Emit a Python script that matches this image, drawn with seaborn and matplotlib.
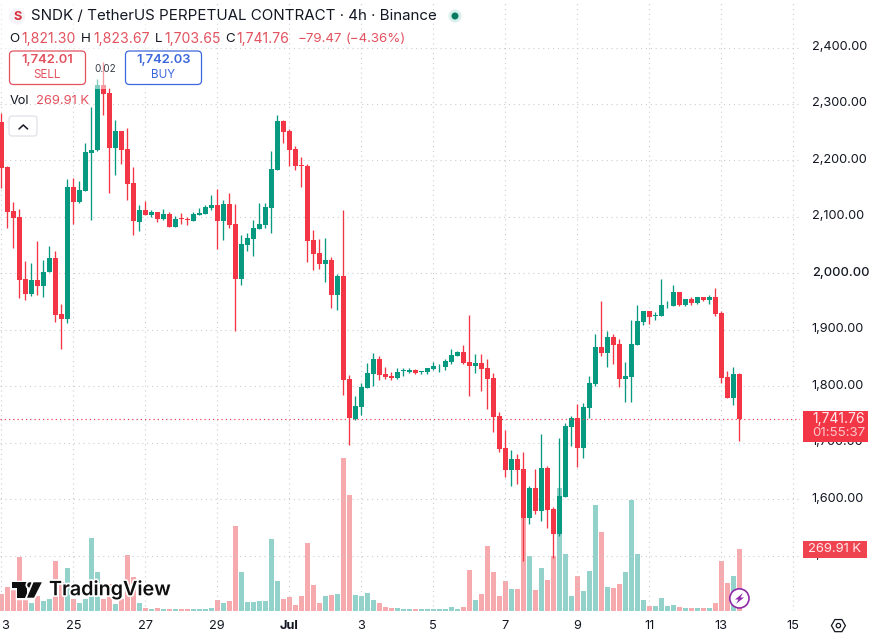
import numpy as np
import pandas as pd
import matplotlib
matplotlib.use("Agg")
import matplotlib.pyplot as plt
import matplotlib.patheffects as pe
from matplotlib.patches import FancyBboxPatch, Rectangle, Circle, Polygon
from matplotlib.transforms import ScaledTranslation
import seaborn as sns

# 4h candles for SNDK / TetherUS perpetual, starting 23 June 00:00
opens = [2268.6, 2188.9, 2110.3, 2099.7, 1989.3, 1963.3, 1987.5, 1977.5, 2002.3, 2027.1,
         1927.3, 1919.0, 2152.8, 2126.3, 2145.7, 2213.0, 2218.4, 2333.5, 2319.4, 2221.9,
         2252.0, 2220.2, 2159.9, 2090.8, 2112.1, 2102.6, 2108.5, 2096.1, 2105.0, 2082.0,
         2098.0, 2096.2, 2092.6, 2103.3, 2105.0, 2115.7, 2121.0, 2092.6, 2122.8, 2087.3,
         1989.9, 2050.1, 2060.8, 2078.5, 2085.6, 2115.7, 2183.0, 2269.8, 2252.1, 2220.2,
         2191.9, 2190.1, 2059.0, 2036.0, 2016.5, 2023.6, 1961.6, 1995.3, 1812.8, 1741.9,
         1763.2, 1796.9, 1821.7, 1848.2, 1821.7, 1818.1, 1814.6, 1827.0, 1825.2, 1828.7,
         1825.2, 1825.2, 1830.5, 1837.0, 1834.0, 1842.9, 1853.5, 1860.6, 1842.9, 1835.8,
         1841.1, 1832.3, 1814.6, 1747.2, 1690.6, 1651.6, 1671.0, 1653.4, 1566.5, 1619.6,
         1578.9, 1655.0, 1582.4, 1538.1, 1603.7, 1727.7, 1743.6, 1690.5, 1761.3, 1803.8,
         1869.4, 1858.8, 1887.1, 1874.7, 1812.7, 1816.2, 1872.9, 1913.7, 1933.2, 1924.3,
         1924.3, 1943.2, 1942.0, 1966.8, 1943.8, 1954.4, 1947.3, 1958.0, 1952.6, 1958.0,
         1929.6, 1816.2, 1779.0, 1821.30]
highs = [2283.3, 2190.6, 2126.3, 2113.3, 2021.7, 2018.2, 2057.2, 2023.5, 2047.7, 2038.9,
         1945.6, 2167.0, 2168.2, 2163.5, 2230.8, 2294.0, 2343.6, 2374.9, 2327.6, 2271.5,
         2252.0, 2256.8, 2188.3, 2121.0, 2128.0, 2112.1, 2108.5, 2113.9, 2108.5, 2101.5,
         2106.8, 2099.7, 2108.6, 2115.7, 2121.0, 2138.7, 2149.3, 2129.9, 2142.2, 2122.8,
         2067.8, 2071.4, 2094.4, 2124.5, 2124.5, 2216.7, 2280.4, 2271.6, 2255.6, 2225.5,
         2206.0, 2193.6, 2076.7, 2060.8, 2062.5, 2028.9, 1998.8, 2112.2, 1819.9, 1782.7,
         1805.7, 1841.1, 1858.9, 1853.5, 1834.0, 1825.2, 1832.3, 1832.3, 1832.3, 1830.5,
         1827.0, 1832.3, 1842.9, 1839.4, 1848.2, 1866.0, 1862.4, 1873.0, 1926.2, 1857.1,
         1857.1, 1848.2, 1823.4, 1754.3, 1722.5, 1687.0, 1680.0, 1683.5, 1623.2, 1653.3,
         1715.3, 1658.6, 1586.0, 1708.2, 1734.8, 1747.2, 1768.4, 1770.2, 1818.0, 1892.4,
         1950.9, 1897.7, 1892.4, 1883.6, 1842.8, 1917.2, 1943.8, 1933.2, 1933.2, 1931.4,
         1989.9, 1950.9, 1979.2, 1966.8, 1954.4, 1958.0, 1958.0, 1958.0, 1961.5, 1973.9,
         1933.2, 1826.9, 1834.0, 1823.67]
lows = [2150.5, 2080.8, 2045.4, 1956.8, 1952.7, 1959.7, 1961.5, 1958.6, 2002.3, 1913.1,
        1866.4, 1912.5, 2087.3, 2124.5, 2145.7, 2094.4, 2216.6, 2280.4, 2142.2, 2174.1,
        2193.6, 2129.8, 2067.8, 2074.9, 2103.2, 2099.7, 2090.8, 2094.4, 2082.0, 2082.0,
        2087.3, 2085.6, 2092.6, 2103.3, 2105.0, 2112.1, 2043.0, 2059.0, 2080.2, 1897.8,
        1979.3, 2039.5, 2030.6, 2078.5, 2080.2, 2071.4, 2183.0, 2230.8, 2190.1, 2183.0,
        2152.9, 2020.0, 2005.8, 2007.6, 1984.6, 1938.6, 1935.0, 1784.5, 1695.9, 1740.2,
        1749.0, 1796.9, 1800.4, 1811.0, 1812.8, 1811.0, 1812.8, 1818.1, 1823.4, 1821.7,
        1821.7, 1821.7, 1828.7, 1825.2, 1828.7, 1839.4, 1853.5, 1839.4, 1782.7, 1823.4,
        1791.5, 1759.7, 1719.0, 1683.5, 1639.2, 1623.3, 1626.8, 1490.3, 1555.8, 1573.6,
        1561.1, 1548.8, 1495.6, 1534.6, 1603.7, 1694.0, 1656.8, 1672.8, 1743.6, 1800.3,
        1853.5, 1834.0, 1839.3, 1798.5, 1772.0, 1772.0, 1872.9, 1908.4, 1910.1, 1917.2,
        1924.3, 1938.5, 1942.0, 1942.0, 1942.0, 1943.8, 1945.6, 1950.9, 1945.6, 1924.3,
        1805.6, 1779.0, 1766.6, 1703.65]
closes = [2187.1, 2109.1, 2098.5, 1988.1, 1963.3, 1988.1, 1977.5, 2002.3, 2027.1, 1926.7,
          1919.0, 2152.8, 2126.3, 2147.5, 2214.8, 2218.4, 2333.5, 2317.6, 2221.9, 2252.0,
          2218.4, 2158.1, 2092.6, 2112.1, 2103.2, 2108.5, 2096.1, 2105.0, 2082.0, 2096.1,
          2096.2, 2093.8, 2105.0, 2106.8, 2117.4, 2121.0, 2092.6, 2122.8, 2085.6, 1989.9,
          2051.9, 2062.5, 2080.2, 2087.3, 2117.4, 2184.8, 2269.8, 2250.3, 2218.4, 2190.1,
          2190.1, 2057.2, 2034.2, 2016.5, 2023.6, 1961.6, 1995.3, 1811.0, 1743.7, 1765.0,
          1798.6, 1823.4, 1848.2, 1819.9, 1816.3, 1814.6, 1825.2, 1828.7, 1828.7, 1823.4,
          1827.0, 1832.3, 1835.8, 1838.2, 1844.7, 1855.3, 1860.6, 1841.1, 1835.8, 1841.1,
          1830.5, 1812.8, 1745.5, 1688.8, 1651.6, 1671.0, 1651.6, 1566.5, 1619.6, 1578.9,
          1655.0, 1580.6, 1538.1, 1605.4, 1729.4, 1743.6, 1690.5, 1763.1, 1805.6, 1869.4,
          1858.8, 1887.1, 1872.9, 1812.7, 1818.0, 1874.7, 1915.5, 1933.2, 1922.5, 1926.1,
          1943.8, 1944.4, 1966.8, 1943.8, 1954.4, 1947.3, 1958.0, 1952.6, 1958.0, 1927.9,
          1814.5, 1779.0, 1821.3, 1741.76]
volumes_k = [73, 104, 90, 235, 51, 34, 64, 42, 51, 217,
             127, 187, 51, 34, 51, 318, 169, 51, 120, 29,
             51, 244, 147, 34, 12, 7, 12, 7, 7, 7,
             7, 7, 7, 7, 7, 12, 47, 34, 42, 371,
             169, 38, 38, 42, 42, 314, 130, 51, 61, 26,
             66, 298, 114, 35, 66, 70, 74, 670, 508, 70,
             66, 79, 48, 35, 18, 13, 13, 9, 9, 9,
             9, 9, 9, 9, 9, 18, 9, 18, 179, 48,
             74, 285, 171, 66, 131, 96, 96, 409, 241, 92,
             188, 136, 241, 538, 248, 64, 152, 86, 174, 462,
             344, 104, 99, 117, 169, 484, 248, 47, 20, 20,
             55, 20, 25, 16, 12, 12, 12, 12, 12, 34,
             217, 121, 152, 269.91]

day_labels = ["3", "25", "27", "29", "Jul", "3", "5", "7", "9", "11", "13", "15"]
price_ticks = [1500, 1600, 1700, 1800, 1900, 2000, 2100, 2200, 2300, 2400]

UP = "#089981"
DOWN = "#F23645"
UP_VOL = "#92D2CB"
DOWN_VOL = "#F6AAAD"
INK = "#131722"
SOFT_RED = "#E2525F"
BLUE = "#3D68DD"
GRID = "#C9CCD3"

sns.set_theme(style="white")
plt.rcParams["font.family"] = ["Inter", "DejaVu Sans"]

W, H = 874, 639
PANE_R, PANE_B = 800, 611
fig = plt.figure(figsize=(W / 100, H / 100), dpi=100, facecolor="white")
rect = [0, (H - PANE_B) / H, PANE_R / W, PANE_B / H]

candles = pd.DataFrame({"open": opens, "high": highs, "low": lows,
                        "close": closes, "volume": volumes_k})
candles["slot"] = np.arange(len(candles))
candles["rising"] = candles["close"] >= candles["open"]
candles["base"] = candles[["open", "close"]].min(axis=1)
candles["body"] = (candles["close"] - candles["open"]).abs()

xlim = (-0.2167, 133.117)

# Volume histogram sits in its own pane underneath the price pane
ax_vol = fig.add_axes(rect, facecolor="white")
for rising, colour in [(True, UP_VOL), (False, DOWN_VOL)]:
    sub = candles[candles["rising"] == rising]
    sns.barplot(data=sub, x="slot", y="volume", native_scale=True, color=colour,
                saturation=1, width=0.9, linewidth=0, errorbar=None, ax=ax_vol)
ax_vol.set_xlim(*xlim)
ax_vol.set_ylim(0, 2674)
ax_vol.axis("off")

ax = fig.add_axes(rect, facecolor="none")
ax.set_axisbelow(True)
ax.grid(True, color=GRID, linestyle=(0, (1, 3.4)), linewidth=0.8)
for rising, colour in [(True, UP), (False, DOWN)]:
    sub = candles[candles["rising"] == rising]
    ax.vlines(sub["slot"], sub["low"], sub["high"], color=colour, linewidth=0.95, zorder=2)
    sns.barplot(data=sub, x="slot", y="body", bottom=sub["base"].to_numpy(), native_scale=True,
                color=colour, saturation=1, width=0.9, linewidth=0, errorbar=None,
                zorder=3, ax=ax)

ax.axhline(closes[-1], color=DOWN, linestyle=(0, (1, 2.6)), linewidth=0.85, zorder=4)

ax.set_xlim(*xlim)
ax.set_ylim(1401.8, 2484.2)
ax.set_xlabel("")
ax.set_ylabel("")
ax.set_xticks(np.arange(len(day_labels)) * 12)
ax.set_xticklabels(day_labels, fontsize=9.2, color=INK)
ax.set_yticks(price_ticks)
ax.set_yticklabels([f"{p:,.2f}" for p in price_ticks], fontsize=9.2, color=INK)
ax.yaxis.tick_right()
ax.tick_params(axis="both", length=0)
ax.tick_params(axis="x", pad=6.2)
ax.tick_params(axis="y", pad=8.5)
for spine in ax.spines.values():
    spine.set_visible(False)
ax.get_xticklabels()[0].set_horizontalalignment("left")
for lab in ax.get_xticklabels():
    if lab.get_text() == "Jul":
        lab.set_fontweight("bold")
nudge_up = ScaledTranslation(0, 2 / 100, fig.dpi_scale_trans)
for lab in ax.get_yticklabels():
    lab.set_transform(lab.get_transform() + nudge_up)
    if lab.get_text() == "2,000.00":
        lab.set_fontweight("medium")

# Overlay in screen pixels for the legend block, price tags and badges
ui = fig.add_axes([0, 0, 1, 1], facecolor="none", zorder=5)
ui.set_xlim(0, W)
ui.set_ylim(H, 0)
ui.axis("off")

ui.add_patch(Rectangle((0, 0), 210, 89, facecolor="white", alpha=0.5, linewidth=0))

# Symbol title
ui.add_patch(Circle((17, 16.5), 8, facecolor="#F4F3F8", linewidth=0))
ui.text(17.3, 16.5, "S", color="#D9303C", fontsize=9.2, fontweight="bold", ha="center", va="center")
ui.text(31, 16, "SNDK / TetherUS PERPETUAL CONTRACT · 4h · Binance", color=INK,
        fontsize=10.9, ha="left", va="center")
ui.add_patch(Circle((455, 16), 6.5, facecolor="#D8EFEA", linewidth=0))
ui.add_patch(Circle((455, 16), 3.5, facecolor="#067A62", linewidth=0))

# OHLC readout
ohlc_row = [(9, "O", INK, 9.6), (21, f"{opens[-1]:,.2f}", SOFT_RED, 10.1),
            (81, "H", INK, 9.6), (93, f"{highs[-1]:,.2f}", SOFT_RED, 10.1),
            (155, "L", INK, 9.6), (164, f"{lows[-1]:,.2f}", SOFT_RED, 10.1),
            (225, "C", INK, 9.6), (236, f"{closes[-1]:,.2f}", SOFT_RED, 10.1),
            (298, "−79.47", SOFT_RED, 9.6), (346, "(−4.36%)", SOFT_RED, 9.6)]
for x, s, c, size in ohlc_row:
    ui.text(x, 38.5, s, color=c, fontsize=size, ha="left", va="center")

# Sell / buy buttons with spread between them
for x0, c, price, word in [(9.5, SOFT_RED, "1,742.01", "SELL"), (125.5, BLUE, "1,742.03", "BUY")]:
    ui.add_patch(FancyBboxPatch((x0 + 3, 54), 70, 27.5, boxstyle="round,pad=3,rounding_size=4",
                                facecolor="white", edgecolor=c, linewidth=0.9))
    ui.text(x0 + 38, 60.5, price, color=c, fontsize=9.4, fontweight="semibold", ha="center", va="center")
    ui.text(x0 + 38, 75, word, color=c, fontsize=8.4, ha="center", va="center")
ui.text(105.5, 68.5, "0.02", color="#3A3E48", fontsize=7.2, ha="center", va="center")

# Volume legend and collapse button
ui.text(10, 101.5, "Vol", color=INK, fontsize=9.2, ha="left", va="center")
ui.text(36, 101.5, "269.91 K", color=SOFT_RED, fontsize=9.4, ha="left", va="center")
ui.add_patch(FancyBboxPatch((12, 119), 22, 14, boxstyle="round,pad=3,rounding_size=3",
                            facecolor="white", edgecolor="#DFE1E6", linewidth=0.9))
ui.plot([19, 23.3, 27.6], [129, 125, 129], color=INK, linewidth=1.1, solid_capstyle="round")

# Last price and volume tags on the scale
ui.add_patch(Rectangle((803, 411), 65, 31, facecolor=DOWN, linewidth=0))
ui.text(865, 419, f"{closes[-1]:,.2f}", color="#FDE9EA", fontsize=10, ha="right", va="center")
ui.text(865, 433, "01:55:37", color="#FBC6CB", fontsize=9.6, ha="right", va="center")
ui.add_patch(Rectangle((803, 541), 64, 16.5, facecolor="#EF4450", linewidth=0))
ui.text(835, 549.5, "269.91 K", color="#FDE9EA", fontsize=9.4, ha="center", va="center")

# TradingView mark
halo = [pe.withStroke(linewidth=2.5, foreground="white")]
logo_ink = "#0F0F0F"
for shape in [Polygon([[11.7, 582.3], [26.7, 582.3], [26.7, 597.7], [17.3, 597.7], [17.3, 588], [11.7, 588]],
                      closed=True),
              Circle((30, 585), 2.8),
              Polygon([[33.5, 582.3], [41.8, 582.3], [34, 597.7], [27, 597.7]], closed=True)]:
    shape.set(facecolor=logo_ink, linewidth=0, zorder=6, path_effects=halo)
    ui.add_patch(shape)
ui.text(49, 590, "TradingView", color=logo_ink, fontsize=14.2, fontweight="semibold",
        ha="left", va="center", zorder=6, path_effects=halo)

# Lightning badge
ui.add_patch(Circle((739.4, 598.4), 9.6, facecolor="white", edgecolor="#8E2BA8", linewidth=1.2, zorder=6))
ui.add_patch(Polygon([[743, 593], [735, 599.5], [738.5, 599.5], [736, 604], [744, 597.5], [740.5, 597.5]],
                     closed=True, facecolor="#8E2BA8", linewidth=0, zorder=7))

# Scale settings icon
hex_t = np.deg2rad(np.arange(0, 360, 60))
ui.add_patch(Polygon(np.c_[838.4 + 7 * np.cos(hex_t), 625.6 + 7 * np.sin(hex_t)], closed=True,
                     facecolor="none", edgecolor=INK, linewidth=0.9))
ui.add_patch(Circle((838.4, 625.6), 2.2, facecolor="none", edgecolor=INK, linewidth=0.9))

fig.savefig("out.png", dpi=100)
